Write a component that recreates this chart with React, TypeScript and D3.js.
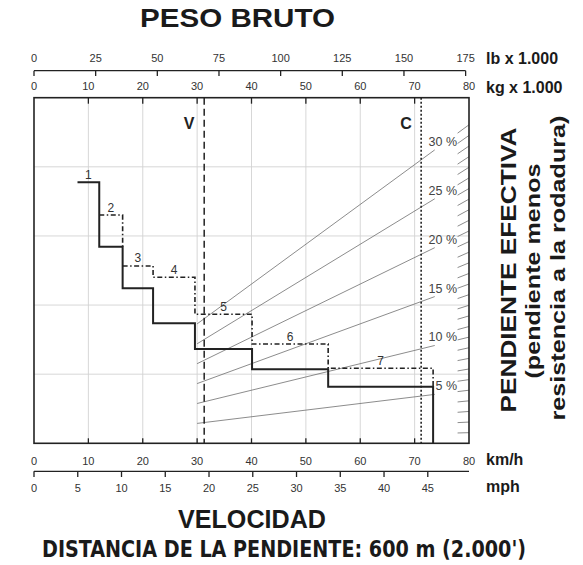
import React from 'react';
import * as d3 from 'd3';

const W = 583;
const H = 565;

// ---- axis tick values ----
const kmhTicks = [0, 10, 20, 30, 40, 50, 60, 70, 80];
const mphTicks = [0, 5, 10, 15, 20, 25, 30, 35, 40, 45];
const kgTicks = [0, 10, 20, 30, 40, 50, 60, 70, 80];
const lbTicks = [0, 25, 50, 75, 100, 125, 150, 175];
const gridX = [10, 20, 30, 40, 50, 60, 70];
const gridY = [5, 10, 15, 20];

// ---- gear steps (km/h breaks, force in grid units) ----
const gearNames = ['1', '2', '3', '4', '5', '6', '7'];
const gearBreaksKmh = [8, 12, 16.3, 21.9, 29.6, 40.1, 54.1, 73.4];
const solidForce = [18.88, 14.22, 11.21, 8.68, 6.82, 5.35, 4.09];
const dashForce = [null, 16.51, 12.83, 12.01, 9.33, 7.18, 5.43];

// ---- grade lines ----
const grades = [5, 10, 15, 20, 25, 30];
const gradeTicks = d3.range(1, 31);
const FORCE_PER_GRADE_TONNE = 0.0096;
const gradeLineStartKg = 30;
const gradeLineEndKg = 73.7;
const gradeTickStartKg = 77.9;

// ---- reference lines ----
const vLineKmh = 31.3;
const cLineKmh = 71.2;

const LB_TO_T = 0.45359;
const MPH_TO_KMH = 1.609344;

const FONT = "'Liberation Sans', Arial, Helvetica, sans-serif";
const NARROW = "'Liberation Sans Narrow', 'DejaVu Sans Condensed', 'Liberation Sans', Arial, sans-serif";

export default function App() {
  const x = d3.scaleLinear().domain([0, 80]).range([34, 469]);
  const y = d3.scaleLinear().domain([0, 25]).range([443.3, 97.7]);
  const x0 = x(0), x1 = x(80), yT = y(25), yB = y(0);

  const line = d3.line<[number, number]>().x(d => x(d[0])).y(d => y(d[1]));

  // solid path
  const solidPts: [number, number][] = [];
  solidForce.forEach((f, i) => {
    solidPts.push([gearBreaksKmh[i], f]);
    solidPts.push([gearBreaksKmh[i + 1], f]);
  });
  solidPts.push([gearBreaksKmh[7], 0]);

  // dash-dot paths
  const dash1: [number, number][] = [
    [gearBreaksKmh[1], dashForce[1] as number],
    [gearBreaksKmh[2], dashForce[1] as number],
    [gearBreaksKmh[2], solidForce[1]],
  ];
  const dash2: [number, number][] = [];
  for (let i = 2; i < 7; i++) {
    dash2.push([gearBreaksKmh[i], dashForce[i] as number]);
    dash2.push([gearBreaksKmh[i + 1], dashForce[i] as number]);
  }
  dash2.push([gearBreaksKmh[7], solidForce[6]]);

  const gf = (g: number, w: number) => FORCE_PER_GRADE_TONNE * g * w;

  const tickLabel = { fontFamily: FONT, fontSize: 11, fill: '#333' } as const;
  const unitLabel = { fontFamily: FONT, fontSize: 16, fontWeight: 700, fill: '#1a1a1a' } as const;

  return (
    <svg width={W} height={H} viewBox={`0 0 ${W} ${H}`}
      style={{ position: 'absolute', left: 0, top: 0, background: '#fff' }}>
      <rect x={0} y={0} width={W} height={H} fill="#fff" />

      {/* grid */}
      {gridX.map(v => (
        <line key={'gx' + v} x1={x(v)} x2={x(v)} y1={yT} y2={yB} stroke="#d2d2d2" strokeWidth={0.9} />
      ))}
      {gridY.map(v => (
        <line key={'gy' + v} x1={x0} x2={x1} y1={y(v)} y2={y(v)} stroke="#d2d2d2" strokeWidth={0.9} />
      ))}

      {/* grade lines */}
      {grades.map(g => (
        <line key={'g' + g}
          x1={x(gradeLineStartKg)} y1={y(gf(g, gradeLineStartKg))}
          x2={x(gradeLineEndKg)} y2={y(gf(g, gradeLineEndKg))}
          stroke="#6e6e6e" strokeWidth={0.8} />
      ))}
      {gradeTicks.map(g => (
        <line key={'gt' + g}
          x1={x(gradeTickStartKg)} y1={y(gf(g, gradeTickStartKg))}
          x2={x(80)} y2={y(gf(g, 80))}
          stroke="#6e6e6e" strokeWidth={0.8} />
      ))}
      {grades.map(g => (
        <text key={'gl' + g} x={457} y={y(gf(g, gradeLineEndKg)) - 4}
          textAnchor="end" style={{ fontFamily: FONT, fontSize: 12.5, fill: '#444' }}>
          {g} %
        </text>
      ))}

      {/* V and C lines */}
      <line x1={x(vLineKmh)} x2={x(vLineKmh)} y1={yT} y2={yB}
        stroke="#222" strokeWidth={1.5} strokeDasharray="7,4" />
      <line x1={x(cLineKmh)} x2={x(cLineKmh)} y1={yT} y2={yB}
        stroke="#222" strokeWidth={1.6} strokeDasharray="2,2" />
      <text x={x(vLineKmh) - 15} y={128.5} textAnchor="middle"
        style={{ fontFamily: FONT, fontSize: 16, fontWeight: 700, fill: '#222' }}>V</text>
      <text x={x(cLineKmh) - 15} y={128.5} textAnchor="middle"
        style={{ fontFamily: FONT, fontSize: 16, fontWeight: 700, fill: '#222' }}>C</text>

      {/* step lines */}
      <path d={line(dash1) || ''} fill="none" stroke="#222" strokeWidth={1.6}
        strokeDasharray="5,2.5,1.5,2.5" />
      <path d={line(dash2) || ''} fill="none" stroke="#222" strokeWidth={1.6}
        strokeDasharray="5,2.5,1.5,2.5" />
      <path d={line(solidPts) || ''} fill="none" stroke="#222" strokeWidth={2} />

      {gearNames.map((n, i) => {
        const top = dashForce[i] == null ? solidForce[i] : (dashForce[i] as number);
        return (
          <text key={'gn' + n} x={x((gearBreaksKmh[i] + gearBreaksKmh[i + 1]) / 2)} y={y(top) - 3.5}
            textAnchor="middle" style={{ fontFamily: FONT, fontSize: 12, fill: '#333' }}>{n}</text>
        );
      })}

      {/* frame */}
      <rect x={x0} y={yT} width={x1 - x0} height={yB - yT} fill="none" stroke="#222" strokeWidth={1.6} />
      {gridX.map(v => (
        <g key={'ft' + v}>
          <line x1={x(v)} x2={x(v)} y1={yT} y2={yT + 6} stroke="#222" strokeWidth={1.3} />
          <line x1={x(v)} x2={x(v)} y1={yB} y2={yB - 5} stroke="#222" strokeWidth={1.3} />
        </g>
      ))}

      {/* top lb axis */}
      <line x1={x(lbTicks[0] * LB_TO_T)} x2={x(lbTicks[lbTicks.length - 1] * LB_TO_T)}
        y1={70.7} y2={70.7} stroke="#222" strokeWidth={1.3} />
      {lbTicks.map(v => (
        <g key={'lb' + v}>
          <line x1={x(v * LB_TO_T)} x2={x(v * LB_TO_T)} y1={70.7} y2={76} stroke="#222" strokeWidth={1.3} />
          <text x={x(v * LB_TO_T)} y={62} textAnchor="middle" style={tickLabel}>{v}</text>
        </g>
      ))}
      {kgTicks.map(v => (
        <text key={'kg' + v} x={x(v)} y={89.5} textAnchor="middle" style={tickLabel}>{v}</text>
      ))}
      <text x={486} y={63.5} style={unitLabel}>lb x 1.000</text>
      <text x={486} y={92.5} style={unitLabel}>kg x 1.000</text>

      {/* bottom axes */}
      {kmhTicks.map(v => (
        <text key={'kmh' + v} x={x(v)} y={465} textAnchor="middle" style={tickLabel}>{v}</text>
      ))}
      <line x1={x0} x2={x1} y1={471.3} y2={471.3} stroke="#222" strokeWidth={1.3} />
      {mphTicks.map(v => (
        <g key={'mph' + v}>
          <line x1={x(v * MPH_TO_KMH)} x2={x(v * MPH_TO_KMH)} y1={471.3} y2={477} stroke="#222" strokeWidth={1.3} />
          <text x={x(v * MPH_TO_KMH)} y={491.5} textAnchor="middle" style={tickLabel}>{v}</text>
        </g>
      ))}
      <text x={486} y={465} style={unitLabel}>km/h</text>
      <text x={486} y={492} style={unitLabel}>mph</text>

      {/* titles */}
      <text x={237.5} y={27} textAnchor="middle" textLength={195} lengthAdjust="spacingAndGlyphs"
        style={{ fontFamily: FONT, fontSize: 25, fontWeight: 700, fill: '#1a1a1a' }}>PESO BRUTO</text>
      <text x={252} y={528} textAnchor="middle" textLength={148} lengthAdjust="spacingAndGlyphs"
        style={{ fontFamily: FONT, fontSize: 25, fontWeight: 700, fill: '#1a1a1a' }}>VELOCIDAD</text>
      <text x={284} y={556.5} textAnchor="middle" textLength={484} lengthAdjust="spacingAndGlyphs"
        style={{ fontFamily: NARROW, fontSize: 23, fontWeight: 700, fill: '#1a1a1a' }}>
        DISTANCIA DE LA PENDIENTE: 600 m (2.000')
      </text>

      {/* right vertical titles */}
      <text transform="translate(516,270) rotate(-90)" textAnchor="middle" textLength={285}
        lengthAdjust="spacingAndGlyphs"
        style={{ fontFamily: FONT, fontSize: 22, fontWeight: 700, fill: '#1a1a1a' }}>PENDIENTE EFECTIVA</text>
      <text transform="translate(540,271) rotate(-90)" textAnchor="middle" textLength={215}
        lengthAdjust="spacingAndGlyphs"
        style={{ fontFamily: FONT, fontSize: 21, fontWeight: 700, fill: '#1a1a1a' }}>(pendiente menos</text>
      <text transform="translate(565,268) rotate(-90)" textAnchor="middle" textLength={305}
        lengthAdjust="spacingAndGlyphs"
        style={{ fontFamily: FONT, fontSize: 21, fontWeight: 700, fill: '#1a1a1a' }}>resistencia a la rodadura)</text>
    </svg>
  );
}
